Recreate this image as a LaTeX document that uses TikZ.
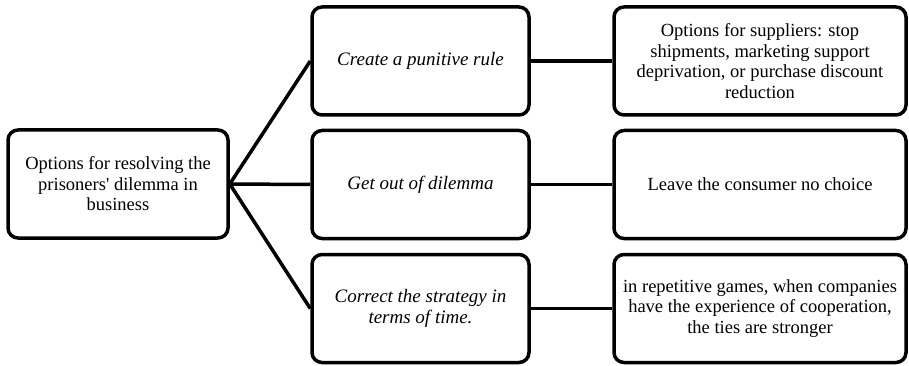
\documentclass[tikz,border=0pt]{standalone}
\usepackage{fontspec}
\setmainfont{Liberation Serif}
\begin{document}
\begin{tikzpicture}[x=1pt,y=-1pt,
  box/.style={draw, line width=3.5pt, rounded corners=10pt, align=center,
    inner sep=0pt, font=\fontsize{18.5}{20.5}\selectfont},
  leftbox/.style={box, minimum width=220pt, minimum height=108pt},
  midbox/.style={box, minimum width=217pt, minimum height=108pt, font=\fontsize{19}{21}\selectfont\itshape},
  rightbox/.style={box, minimum width=292pt, minimum height=108pt},
  link/.style={line width=3.5pt}]
\useasboundingbox (0,0) rectangle (909,366);

% root
\node[leftbox] (root) at (118,184) {Options for resolving the\\prisoners\textquotesingle\ dilemma in\\business};

% second level
\node[midbox] (m1) at (420.5,61) {Create a punitive rule};
\node[midbox] (m2) at (420.5,184.5) {Get out of dilemma};
\node[midbox] (m3) at (420.5,308.5) {Correct the strategy in\\terms of time.};

% third level
\node[rightbox] (r1) at (760,61) {Options for suppliers: stop\\shipments, marketing support\\deprivation, or purchase discount\\reduction};
\node[rightbox] (r2) at (760,184.5) {Leave the consumer no choice};
\node[rightbox] (r3) at (760,308.5) {in repetitive games, when companies\\have the experience of cooperation,\\the ties are stronger};

% connectors
\draw[link] (root.east) -- (m1.west);
\draw[link] (root.east) -- (m2.west);
\draw[link] (root.east) -- (m3.west);
\draw[link] (m1.east) -- (r1.west);
\draw[link] (m2.east) -- (r2.west);
\draw[link] (m3.east) -- (r3.west);
\end{tikzpicture}
\end{document}
